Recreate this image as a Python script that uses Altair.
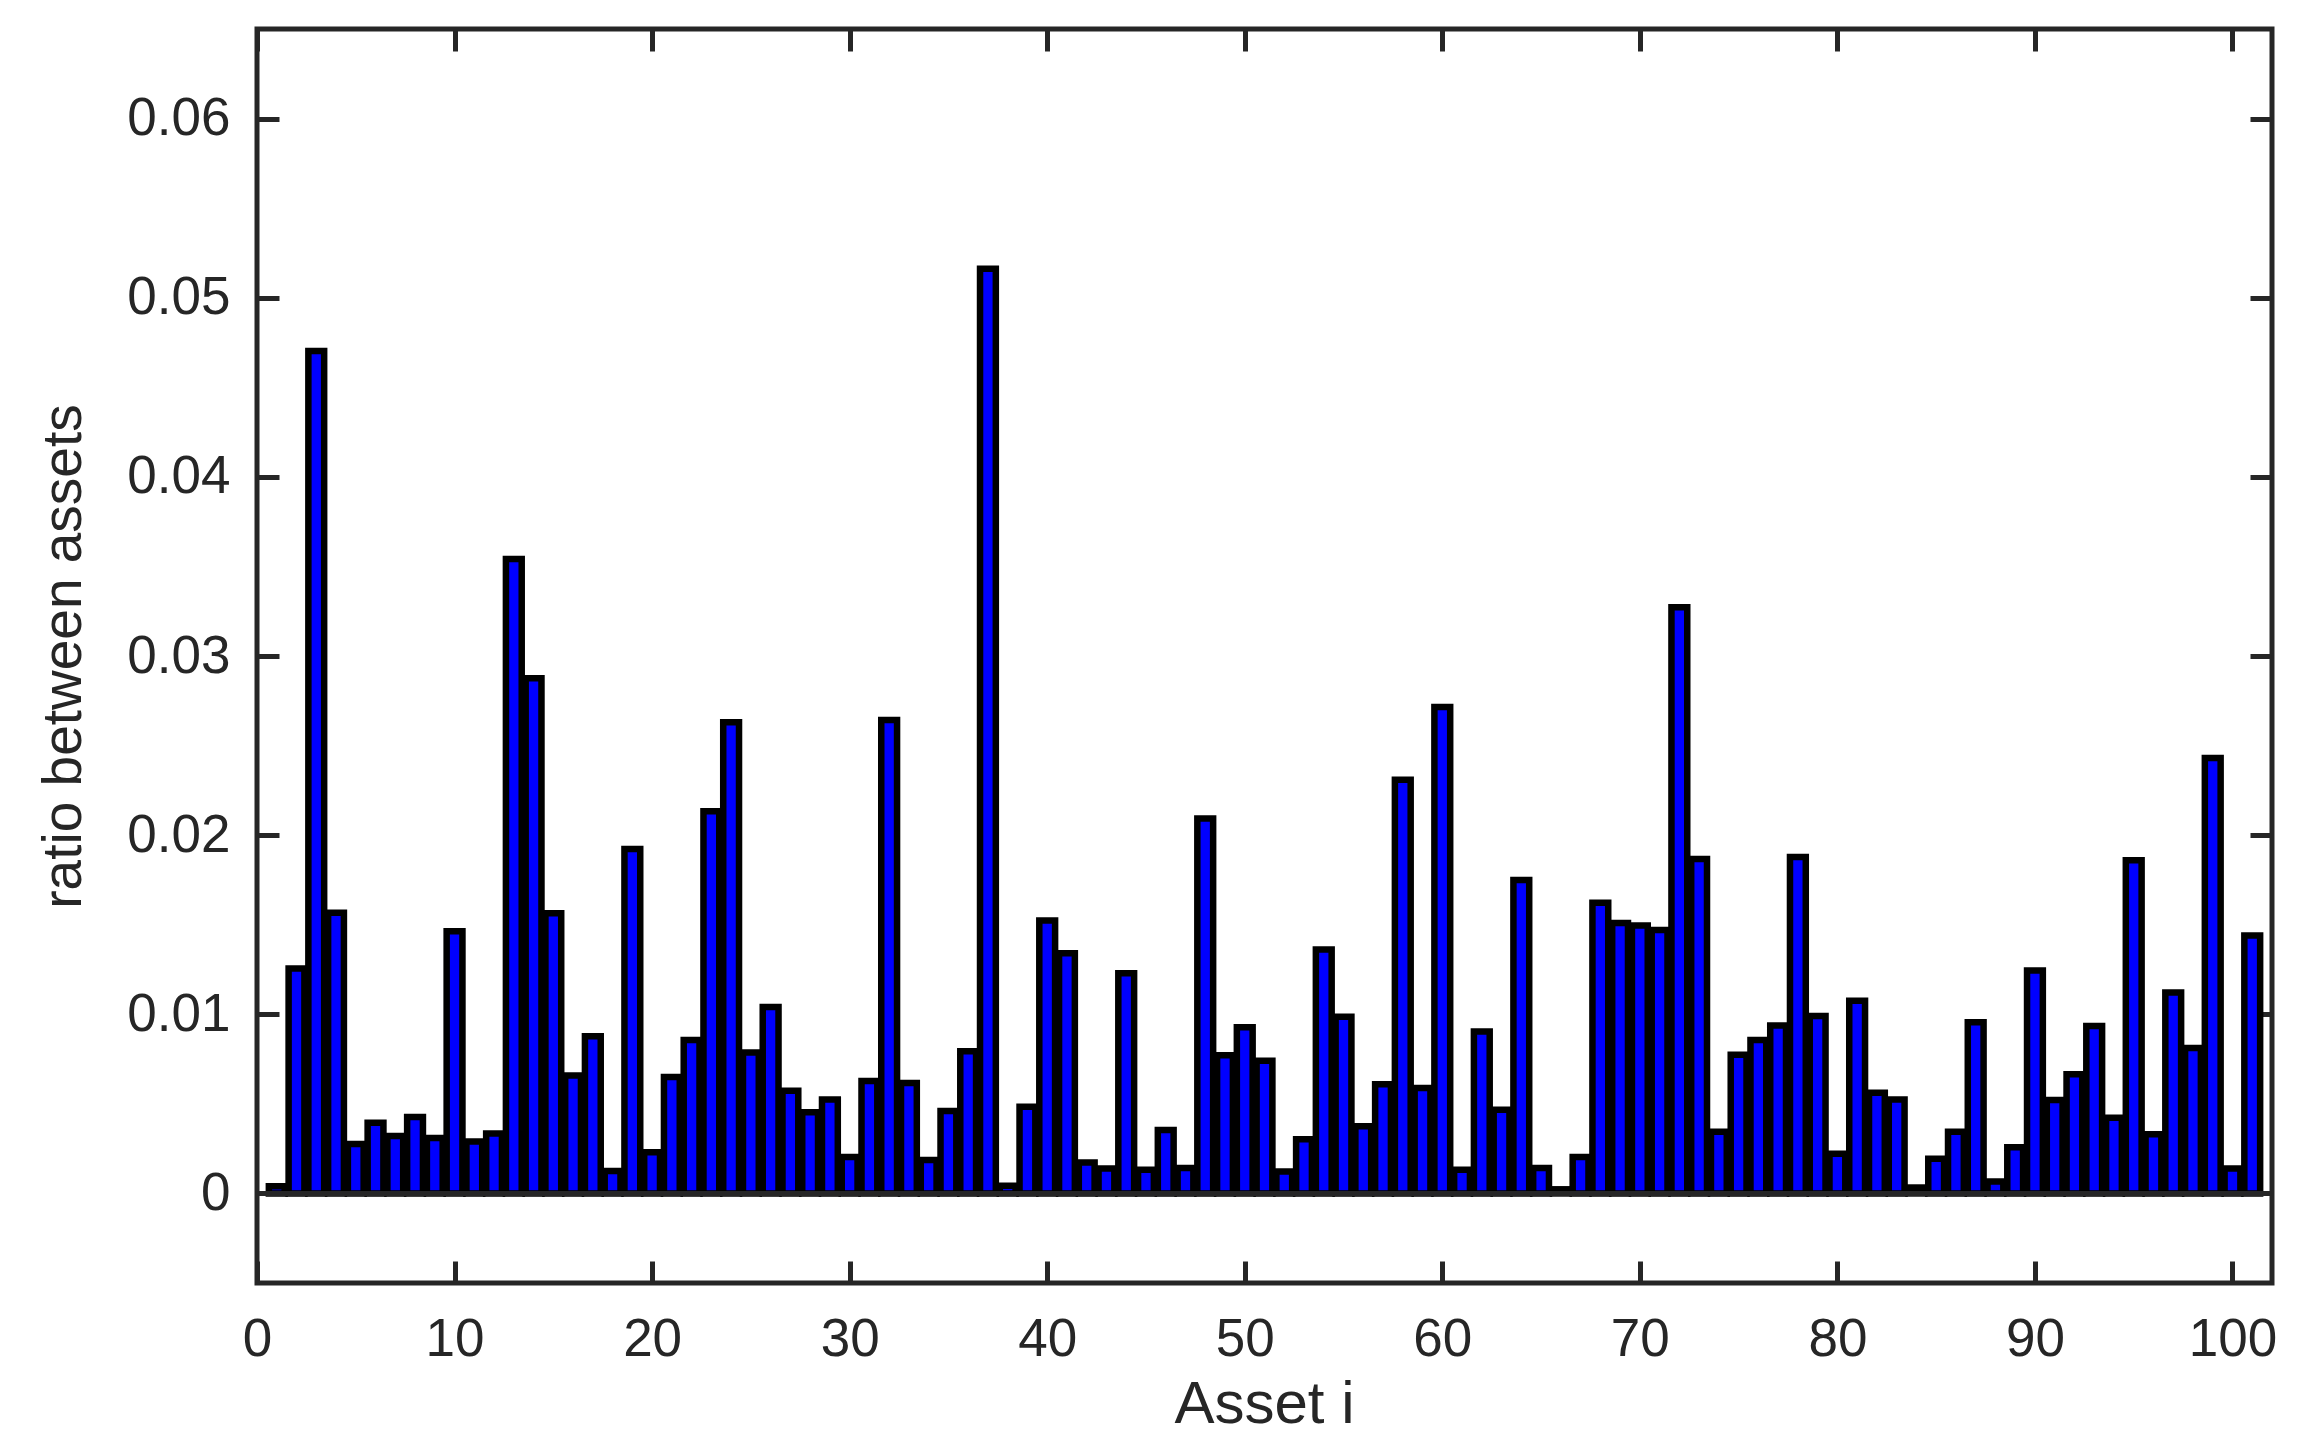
import altair as alt
import pandas as pd

assets = list(range(1, 102))
ratios = [
    0.0004, 0.01256, 0.04703, 0.01567, 0.00276, 0.00395, 0.0032, 0.00426, 0.0031, 0.01464,
    0.0029, 0.00334, 0.03542, 0.02876, 0.01564, 0.00658, 0.00877, 0.00125, 0.01923, 0.0023,
    0.0065, 0.00856, 0.02134, 0.0263, 0.00787, 0.0104, 0.00573, 0.00453, 0.00525, 0.00204,
    0.00628, 0.02643, 0.00617, 0.00187, 0.0046, 0.00794, 0.05161, 0.00043, 0.00484, 0.01523,
    0.01341, 0.00173, 0.00139, 0.01229, 0.00132, 0.00354, 0.00142, 0.02093, 0.00771, 0.00928,
    0.0074, 0.00122, 0.00303, 0.01361, 0.00986, 0.00375, 0.0061, 0.02309, 0.00589, 0.02715,
    0.00132, 0.00904, 0.00467, 0.0175, 0.00142, 0.00023, 0.00204, 0.01622, 0.01509, 0.01495,
    0.01471, 0.03272, 0.01867, 0.00344, 0.00774, 0.00856, 0.00938, 0.01878, 0.0099, 0.00221,
    0.01075, 0.00562, 0.00525, 0.00033, 0.00194, 0.00344, 0.00955, 0.00067, 0.00258, 0.01245,
    0.00521, 0.00665, 0.00934, 0.00423, 0.0186, 0.00331, 0.01122, 0.00812, 0.02431, 0.00139,
    0.0144,
]
x_ticks = [0, 10, 20, 30, 40, 50, 60, 70, 80, 90, 100]
y_ticks = [0, 0.01, 0.02, 0.03, 0.04, 0.05, 0.06]
x_domain = [0, 102]
y_domain = [-0.005, 0.065]
baseline_vals = [0]

df = pd.DataFrame({"asset": assets, "ratio": ratios})
base_df = pd.DataFrame({"b": baseline_vals})

FONT = "Liberation Sans"
INK = "#262626"
TICK = 22

xscale = alt.Scale(domain=x_domain, nice=False, zero=False)
yscale = alt.Scale(domain=y_domain, nice=False, zero=False)

common_axis = dict(
    domain=False, grid=False, tickSize=TICK, tickWidth=5, tickColor=INK,
    offset=-TICK, labelFont=FONT, labelColor=INK, labelFontSize=53,
    titleFont=FONT, titleColor=INK, titleFontWeight="normal",
)

bottom_axis = alt.Axis(
    orient="bottom", values=x_ticks, format="d", labelPadding=30,
    title="Asset i", titleFontSize=60, titleX=1007, titleY=161,
    titleBaseline="alphabetic", titleAlign="center", labelFlush=False,
    **common_axis,
)
left_axis = alt.Axis(
    orient="left", values=y_ticks, format="~g", labelPadding=27,
    title="ratio between assets", titleFontSize=55, titleAngle=270,
    titleX=-199, titleY=627, titleBaseline="alphabetic", titleAlign="center",
    labelFlush=False,
    **common_axis,
)
top_axis = alt.Axis(
    orient="top", values=x_ticks, labels=False, title=None, **common_axis
)
right_axis = alt.Axis(
    orient="right", values=y_ticks, labels=False, title=None, **common_axis
)

bars = (
    alt.Chart(df)
    .transform_calculate(x0="datum.asset - 0.4", x1="datum.asset + 0.4", base="0")
    .mark_bar(fill="#0000ff", stroke="#000000", strokeWidth=6.5)
    .encode(
        x=alt.X("x0:Q", scale=xscale, axis=bottom_axis),
        x2="x1:Q",
        y=alt.Y("ratio:Q", scale=yscale, axis=left_axis),
        y2="base:Q",
    )
)

baseline = (
    alt.Chart(base_df)
    .mark_rule(color=INK, strokeWidth=5)
    .encode(y=alt.Y("b:Q", scale=yscale, axis=None))
)

box_ticks = (
    alt.Chart(df)
    .mark_point(opacity=0)
    .encode(
        x=alt.X("asset:Q", scale=xscale, axis=top_axis),
        y=alt.Y("ratio:Q", scale=yscale, axis=right_axis),
    )
)

chart = (
    alt.layer(bars, baseline, box_ticks)
    .resolve_axis(x="independent", y="independent")
    .properties(
        width=2015,
        height=1254,
        autosize=alt.AutoSizeParams(type="none"),
        padding={"left": 249, "top": 21, "right": 19, "bottom": 162},
        background="white",
    )
    .configure_view(stroke=INK, strokeWidth=5)
)

chart.save("out.html", embed_options={"renderer": "svg", "actions": False})
